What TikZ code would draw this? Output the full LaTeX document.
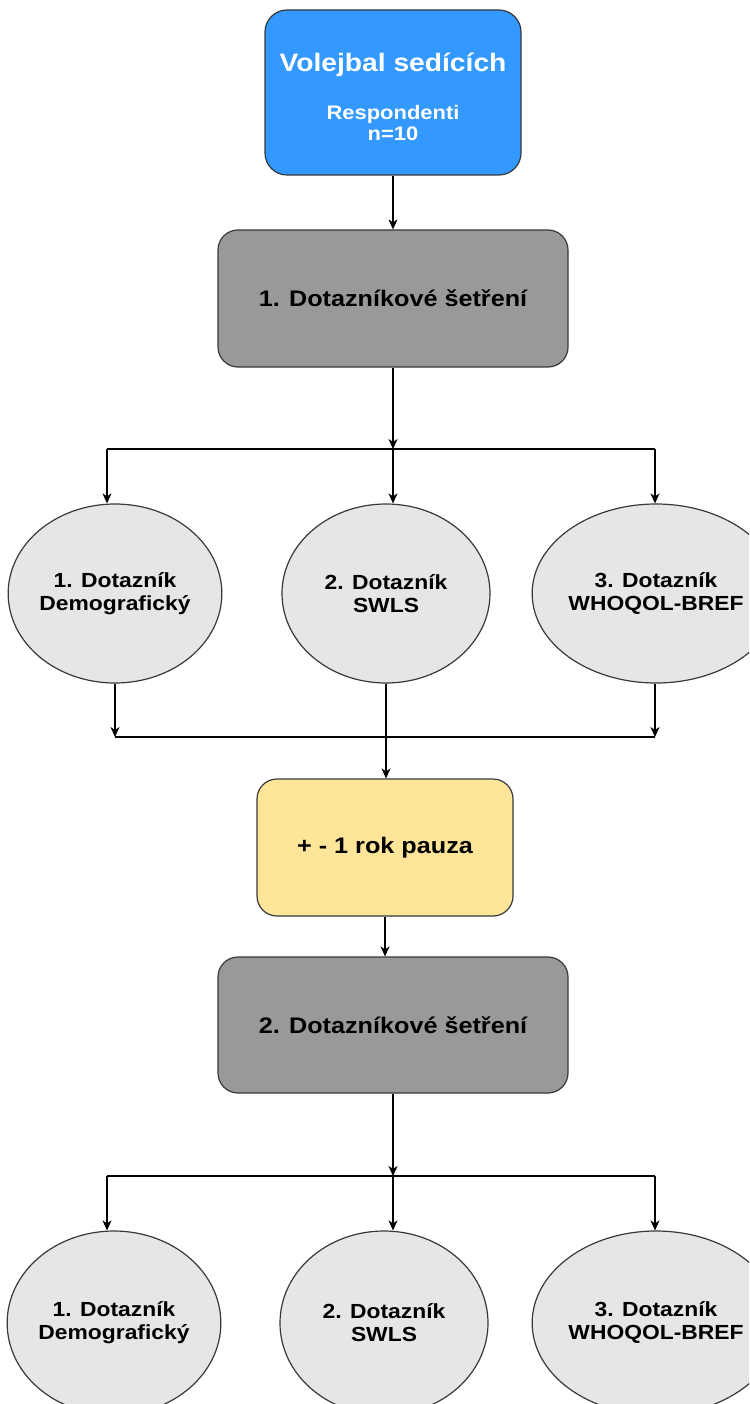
\documentclass[tikz,border=0pt]{standalone}
\usepackage{fontspec}
\newfontfamily\hv{Liberation Sans}[FakeStretch=1.12]
\usetikzlibrary{arrows.meta,shapes.geometric}
\definecolor{cblue}{HTML}{3399FF}
\definecolor{cgray}{HTML}{999999}
\definecolor{cyel}{HTML}{FFE599}
\definecolor{cell}{HTML}{E6E6E6}
\definecolor{cline}{HTML}{36393D}
\begin{document}
\begin{tikzpicture}[x=1pt,y=-1pt,
  box/.style={draw=cline, line width=1.2pt, rounded corners=20pt, inner sep=0pt, align=center,
    font=\hv\bfseries\fontsize{22.5}{26}\selectfont, text=black},
  ell/.style={ellipse, draw=cline, fill=cell, line width=1.2pt, minimum width=208pt,
    minimum height=179pt, inner sep=0pt, align=center,
    font=\hv\bfseries\fontsize{20.4}{23}\selectfont},
  lbl/.style={inner sep=0pt, align=center, text=white},
  arr/.style={line width=1.3pt, -{Stealth[length=10pt,width=9pt,inset=3pt]}},
  ln/.style={line width=1.3pt}]
\useasboundingbox (0,0) rectangle (749,1404);
\fill[white] (0,0) rectangle (749,1404);
\clip (0,0) rectangle (749,1404);

% top box
\node[box, fill=cblue, rounded corners=22pt, minimum width=256pt, minimum height=165pt] (start) at (393,92.5) {};
\node[lbl, font=\hv\bfseries\fontsize{25.2}{28}\selectfont] (startA) at (393,65) {Volejbal sedících};
\node[lbl, font=\hv\bfseries\fontsize{19.6}{21}\selectfont] (startB) at (393,122.5) {Respondenti\\n=10};

% first survey
\node[box, fill=cgray, minimum width=350pt, minimum height=137pt] (g1) at (393,298.5) {1. Dotazníkové šetření};

% first questionnaires
\node[ell] (e1) at (115,593.5) {1. Dotazník\\Demografický};
\node[ell] (e2) at (386,593.5) {2. Dotazník\\SWLS};
\node[ell] (e3) at (656,593.5) {3. Dotazník\\WHOQOL-BREF};

% pause
\node[box, fill=cyel, minimum width=256pt, minimum height=137pt] (pause) at (385,847.5) {+ - 1 rok pauza};

% second survey
\node[box, fill=cgray, minimum width=350pt, minimum height=136pt] (g2) at (393,1025) {2. Dotazníkové šetření};

% second questionnaires
\node[ell, minimum height=184pt] (f1) at (114,1323) {1. Dotazník\\Demografický};
\node[ell, minimum height=184pt] (f2) at (384,1323) {2. Dotazník\\SWLS};
\node[ell, minimum height=184pt] (f3) at (656,1323) {3. Dotazník\\WHOQOL-BREF};

% connectors
\draw[arr] (start) -- (g1);

\coordinate (j1) at (393,449);
\coordinate (j1l) at (107,449);
\coordinate (j1r) at (655,449);
\draw[arr] (g1.south) -- (j1);
\draw[ln] (j1l) -- (j1r);
\draw[arr] (j1l) -- (j1l |- e1.north);
\draw[arr] (j1) -- (j1 |- e2.north);
\draw[arr] (j1r) -- (j1r |- e3.north);

\coordinate (k1) at (115,737);
\coordinate (k3) at (655,737);
\draw[ln] (k1) -- (k3);
\draw[arr] (e1.south) -- (k1);
\draw[arr] (k3 |- e3.south) -- (k3);
\draw[arr] (e2.south) -- (e2.south |- pause.north);

\draw[arr] (pause.south) -- (pause.south |- g2.north);

\coordinate (j2) at (393,1176);
\coordinate (j2l) at (107,1176);
\coordinate (j2r) at (655,1176);
\draw[arr] (g2.south) -- (j2);
\draw[ln] (j2l) -- (j2r);
\draw[arr] (j2l) -- (j2l |- f1.north);
\draw[arr] (j2) -- (j2 |- f2.north);
\draw[arr] (j2r) -- (j2r |- f3.north);
\end{tikzpicture}
\end{document}
